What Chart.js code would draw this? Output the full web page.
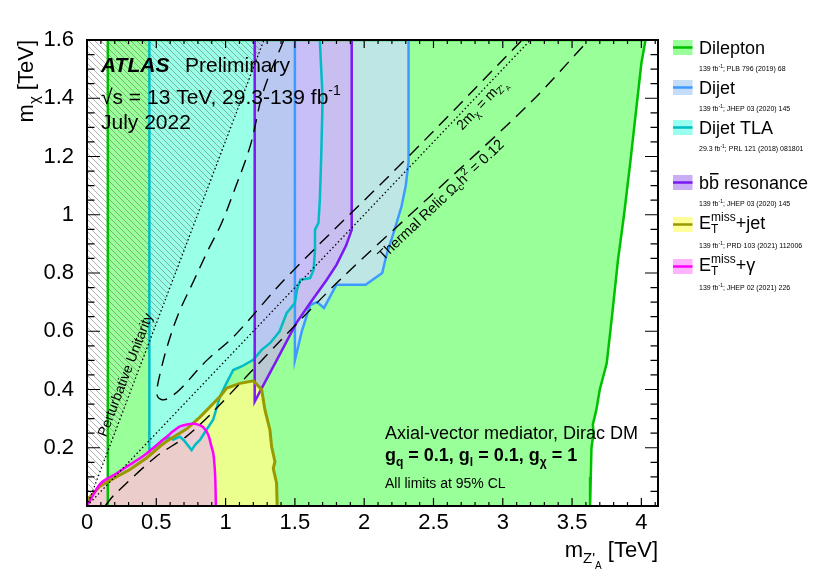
<!DOCTYPE html>
<html>
<head>
<meta charset="utf-8">
<script src="https://cdn.jsdelivr.net/npm/chart.js@4.4.1/dist/chart.umd.min.js"></script>
<style>
    html, body { margin: 0; padding: 0; background: #fff; }
    canvas { display: block; }
</style>
</head>
<body>
<canvas id="limitPlot" width="830" height="569"></canvas>
<script>
/* Exclusion contours in the (m_Z'A, m_chi) plane, both in TeV */
const dileptonMZ   = [0.15, 0.15, 4.03, 4.00, 3.96, 3.92, 3.875, 3.83, 3.79, 3.75, 3.70, 3.675, 3.65, 3.655, 3.64, 3.635, 3.63];
const dileptonMChi = [0.00, 1.60, 1.60, 1.52, 1.35, 1.18, 1.00, 0.84, 0.66, 0.49, 0.40, 0.33, 0.28, 0.25, 0.20, 0.10, 0.00];

const dijetMZ   = [1.50, 1.50, 1.55, 1.61, 1.66, 1.71, 1.80, 2.01, 2.13, 2.16, 2.22, 2.27, 2.30, 2.32, 2.32];
const dijetMChi = [1.60, 0.50, 0.60, 0.69, 0.70, 0.68, 0.76, 0.76, 0.80, 0.86, 0.95, 1.03, 1.10, 1.18, 1.60];

const tlaMZ   = [0.45, 0.45, 0.50, 0.55, 0.59, 0.623, 0.67, 0.70, 0.755, 0.78, 0.815, 0.86, 0.91, 0.96, 1.00, 1.055, 1.115, 1.20, 1.26, 1.32, 1.39, 1.44, 1.50, 1.515, 1.54, 1.61, 1.635, 1.645, 1.645, 1.67, 1.68, 1.69, 1.70, 1.69, 1.68];
const tlaMChi = [1.60, 0.19, 0.207, 0.228, 0.236, 0.228, 0.238, 0.225, 0.192, 0.21, 0.227, 0.26, 0.296, 0.376, 0.416, 0.467, 0.479, 0.502, 0.536, 0.559, 0.60, 0.662, 0.697, 0.742, 0.777, 0.782, 0.811, 0.88, 0.948, 0.972, 1.05, 1.20, 1.40, 1.50, 1.60];

const bbMZ   = [1.21, 1.21, 1.26, 1.37, 1.51, 1.61, 1.73, 1.80, 1.87, 1.91, 1.91];
const bbMChi = [1.60, 0.358, 0.404, 0.502, 0.628, 0.697, 0.777, 0.828, 0.895, 0.948, 1.60];

const monojetMZ   = [0.00, 0.00, 0.01, 0.094, 0.166, 0.31, 0.43, 0.527, 0.575, 0.72, 0.815, 0.96, 1.008, 1.104, 1.20, 1.26, 1.284, 1.32, 1.332, 1.356, 1.344, 1.368, 1.372];
const monojetMChi = [0.00, 0.02, 0.025, 0.068, 0.088, 0.125, 0.165, 0.205, 0.222, 0.265, 0.305, 0.376, 0.405, 0.421, 0.43, 0.40, 0.33, 0.261, 0.204, 0.152, 0.129, 0.078, 0.00];

const monophotonMZ   = [0.00, 0.04, 0.094, 0.142, 0.20, 0.286, 0.38, 0.43, 0.50, 0.575, 0.625, 0.671, 0.72, 0.767, 0.81, 0.84, 0.875, 0.895, 0.911, 0.92, 0.925, 0.928, 0.93];
const monophotonMChi = [0.00, 0.035, 0.075, 0.093, 0.108, 0.135, 0.163, 0.18, 0.208, 0.238, 0.258, 0.273, 0.28, 0.282, 0.278, 0.27, 0.245, 0.21, 0.181, 0.14, 0.10, 0.05, 0.00];

/* Relic density curves and reference lines */
const relicUpperMZ   = [1.42, 1.27, 1.18, 1.06, 0.97, 0.875, 0.767, 0.66, 0.58, 0.53, 0.505, 0.51, 0.54, 0.58, 0.67, 0.864, 1.055, 1.45, 2.32, 3.14];
const relicUpperMChi = [1.60, 1.42, 1.24, 1.08, 0.97, 0.88, 0.77, 0.66, 0.55, 0.46, 0.40, 0.375, 0.365, 0.368, 0.40, 0.50, 0.58, 0.79, 1.20, 1.60];
const relicLowerMZ   = [0.13, 0.20, 0.50, 0.72, 0.91, 1.40, 1.85, 2.475, 3.20, 3.62];
const relicLowerMChi = [0.00, 0.04, 0.17, 0.24, 0.324, 0.57, 0.788, 1.063, 1.385, 1.60];
const unitarityMZ   = [0.00, 1.2766];
const unitarityMChi = [0.00, 1.60];
const halfMassMZ   = [0.00, 3.20];
const halfMassMChi = [0.00, 1.60];
const hatchMZ   = [0.00, 1.2766, 0.00];
const hatchMChi = [0.00, 1.60, 1.60];

/* Legend references */
const legendLumi = ['139', '139', '29.3', '139', '139', '139'];
const legendRefs = ['PLB 796 (2019) 68', 'JHEP 03 (2020) 145', 'PRL 121 (2018) 081801',
    'JHEP 03 (2020) 145', 'PRD 103 (2021) 112006', 'JHEP 02 (2021) 226'];

const FONT = "'Liberation Sans', Arial, Helvetica, sans-serif";


const toPoints = (xs, ys) => xs.map((x, i) => ({ x: x, y: ys[i] }));

/* Filled area without outline */
const fillSet = (xs, ys, color, order) => ({
    data: toPoints(xs, ys),
    showLine: true,
    fill: 'shape',
    backgroundColor: color,
    borderColor: 'rgba(0,0,0,0)',
    borderWidth: 0,
    pointRadius: 0,
    order: order
});

/* Outline only */
const lineSet = (xs, ys, color, width, order, extra) => Object.assign({
    data: toPoints(xs, ys),
    showLine: true,
    fill: false,
    borderColor: color,
    borderWidth: width,
    pointRadius: 0,
    clip: 0,
    order: order
}, extra || {});

/* Grey diagonal hatching for the unitarity region */
const makeHatch = () => {
    let c = document.createElement('canvas');
    c.width = 6;
    c.height = 6;
    let g = c.getContext('2d');
    g.strokeStyle = 'rgba(100,100,100,0.5)';
    g.lineWidth = 1;
    g.beginPath();
    g.moveTo(0, 0); g.lineTo(6, 6);
    g.moveTo(-3, 3); g.lineTo(3, 9);
    g.moveTo(3, -3); g.lineTo(9, 3);
    g.stroke();
    return g.createPattern(c, 'repeat');
};

const fontOf = (p) => `${p.italic ? 'italic ' : ''}${p.bold ? 'bold ' : ''}${p.size}px ${FONT}`;

/* Draws a run of text pieces with sub/superscripts */
const drawRich = (ctx, parts, x, y, align) => {
    let w = 0;
    parts.forEach(p => {
        ctx.font = fontOf(p);
        p.w = ctx.measureText(p.t).width;
        if (!p.stack) w += p.w;
    });
    let cx = align === 'right' ? x - w : (align === 'center' ? x - w / 2 : x);
    ctx.textAlign = 'left';
    ctx.textBaseline = 'alphabetic';
    parts.forEach(p => {
        ctx.font = fontOf(p);
        ctx.fillText(p.t, cx, y + (p.dy || 0));
        if (p.over) {
            ctx.save();
            ctx.lineWidth = 1.5;
            ctx.strokeStyle = ctx.fillStyle;
            ctx.beginPath();
            ctx.moveTo(cx + 1, y - p.size * 0.82);
            ctx.lineTo(cx + p.w - 0.5, y - p.size * 0.82);
            ctx.stroke();
            ctx.restore();
        }
        if (!p.stack) cx += p.w;
    });
};

/* Frame and inward ticks on all four sides */
const drawFrame = (chart) => {
    const { ctx, chartArea: a, scales: { x, y } } = chart;
    ctx.save();
    ctx.strokeStyle = '#000';
    ctx.lineWidth = 1.2;
    ctx.beginPath();
    for (let i = 0; i <= 41; i++) {
        let px = x.getPixelForValue(i / 10);
        let len = i % 5 === 0 ? 8 : 4;
        ctx.moveTo(px, a.bottom); ctx.lineTo(px, a.bottom - len);
        ctx.moveTo(px, a.top); ctx.lineTo(px, a.top + len);
    }
    for (let i = 0; i <= 32; i++) {
        let py = y.getPixelForValue(i * 0.05);
        let len = i % 4 === 0 ? 13 : 7.5;
        ctx.moveTo(a.left, py); ctx.lineTo(a.left + len, py);
        ctx.moveTo(a.right, py); ctx.lineTo(a.right - len, py);
    }
    ctx.stroke();
    ctx.lineWidth = 2;
    ctx.strokeRect(a.left, a.top, a.right - a.left, a.bottom - a.top);
    ctx.restore();
};

/* Rotated label placed at a data point with a pixel offset */
const drawAlong = (chart, mz, mchi, dx, dy, angle, parts) => {
    const { ctx, scales: { x, y } } = chart;
    ctx.save();
    ctx.translate(x.getPixelForValue(mz) + dx, y.getPixelForValue(mchi) + dy);
    ctx.rotate(angle * Math.PI / 180);
    drawRich(ctx, parts, 0, 0, 'left');
    ctx.restore();
};

const drawTexts = (chart) => {
    const { ctx } = chart;
    ctx.save();
    ctx.fillStyle = '#000';

    drawRich(ctx, [{ t: 'ATLAS', size: 21, bold: true, italic: true }], 101, 72, 'left');
    drawRich(ctx, [{ t: 'Preliminary', size: 21 }], 185, 72, 'left');
    drawRich(ctx, [{ t: '\u221As = 13 TeV, 29.3-139 fb', size: 21 }, { t: '-1', size: 14, dy: -9 }], 101, 104, 'left');
    drawRich(ctx, [{ t: 'July 2022', size: 21 }], 101, 129, 'left');

    drawRich(ctx, [{ t: 'Axial-vector mediator, Dirac DM', size: 18 }], 385, 439, 'left');
    drawRich(ctx, [
        { t: 'g', size: 18, bold: true }, { t: 'q', size: 12, bold: true, dy: 5 },
        { t: ' = 0.1, g', size: 18, bold: true }, { t: 'l', size: 12, bold: true, dy: 5 },
        { t: ' = 0.1, g', size: 18, bold: true }, { t: '\u03C7', size: 12, bold: true, dy: 5 },
        { t: ' = 1', size: 18, bold: true }
    ], 385, 461, 'left');
    drawRich(ctx, [{ t: 'All limits at 95% CL', size: 14 }], 385, 488, 'left');

    // labels running along the reference lines
    drawAlong(chart, 0.181, 0.227, -6, -2.5, -69, [{ t: 'Perturbative Unitarity', size: 14 }]);
    drawAlong(chart, 2.70, 1.35, 1, 18, -46.4, [
        { t: '2m', size: 14 }, { t: '\u03C7', size: 10, dy: 3 },
        { t: ' = m', size: 14 }, { t: "Z'", size: 10, dy: 3 }, { t: 'A', size: 7, dy: 6 }
    ]);
    drawAlong(chart, 2.13, 0.91, 1, 20, -43.5, [
        { t: 'Thermal Relic \u03A9', size: 14.5 }, { t: 'c', size: 10, dy: 3 },
        { t: 'h', size: 14.5 }, { t: '2', size: 10, dy: -6 }, { t: ' = 0.12', size: 14.5 }
    ]);

    // axis titles
    drawRich(ctx, [{ t: 'm', size: 22 }, { t: "Z'", size: 15, dy: 6 }, { t: 'A', size: 10, dy: 12 }, { t: ' [TeV]', size: 22 }], 658, 557, 'right');
    ctx.save();
    ctx.translate(33, 40);
    ctx.rotate(-Math.PI / 2);
    drawRich(ctx, [{ t: 'm', size: 22 }, { t: '\u03C7', size: 15, dy: 6 }, { t: ' [TeV]', size: 22 }], 0, 0, 'right');
    ctx.restore();

    ctx.restore();
};

/* Legend on the right: patch, name and reference line */
const drawLegend = (chart) => {
    const { ctx } = chart;
    const tops = [40, 80, 120, 175, 217, 259];
    const patch = ['#99ff99', '#c4dcf7', '#99ffee', '#c9adf5', '#ffff99', '#ffb3ff'];
    const stroke = ['#00c000', '#3d9bff', '#00bcc4', '#7a1af0', '#999900', '#ff00ff'];
    const names = [
        [{ t: 'Dilepton', size: 18 }],
        [{ t: 'Dijet', size: 18 }],
        [{ t: 'Dijet TLA', size: 18 }],
        [{ t: 'b', size: 18 }, { t: 'b', size: 18, over: true }, { t: ' resonance', size: 18 }],
        [{ t: 'E', size: 18 }, { t: 'T', size: 12, dy: 4, stack: true }, { t: 'miss', size: 12, dy: -8 }, { t: '+jet', size: 18 }],
        [{ t: 'E', size: 18 }, { t: 'T', size: 12, dy: 4, stack: true }, { t: 'miss', size: 12, dy: -8 }, { t: '+\u03B3', size: 18 }]
    ];
    ctx.save();
    tops.forEach((top, i) => {
        ctx.fillStyle = patch[i];
        ctx.fillRect(673, top, 19.5, 15);
        ctx.strokeStyle = stroke[i];
        ctx.lineWidth = 2.5;
        ctx.beginPath();
        ctx.moveTo(673, top + 7.5);
        ctx.lineTo(692.5, top + 7.5);
        ctx.stroke();
        ctx.fillStyle = '#000';
        drawRich(ctx, names[i], 699, top + (i >= 4 ? 12 : 13.5), 'left');
        drawRich(ctx, [
            { t: legendLumi[i] + ' fb', size: 7 }, { t: '-1', size: 5, dy: -3 },
            { t: '; ' + legendRefs[i], size: 7 }
        ], 699, top + 31, 'left');
    });
    ctx.restore();
};

const overlayPlugin = {
    id: 'overlay',
    afterDraw: (chart) => {
        drawFrame(chart);
        drawTexts(chart);
        drawLegend(chart);
    }
};


/* Builds the exclusion plot */
const buildLimitPlot = () => {
    Chart.defaults.font.family = FONT;
    const hatch = makeHatch();

    const datasets = [
        // filled areas, bottom to top
        fillSet(dileptonMZ, dileptonMChi, '#99ff99', 30),
        fillSet(tlaMZ, tlaMChi, '#99ffe6', 29),
        fillSet(dijetMZ, dijetMChi, 'rgba(202,222,255,0.75)', 28),
        fillSet(bbMZ, bbMChi, 'rgba(207,163,247,0.6)', 27),
        fillSet(hatchMZ, hatchMChi, hatch, 26),
        fillSet(monojetMZ, monojetMChi, 'rgba(255,255,140,0.8)', 25),
        fillSet(monophotonMZ, monophotonMChi, 'rgba(235,165,255,0.55)', 24),
        // contour outlines
        lineSet(dileptonMZ, dileptonMChi, '#00c000', 2.5, 20),
        lineSet(dijetMZ, dijetMChi, '#3d9bff', 2.5, 19),
        lineSet(tlaMZ, tlaMChi, '#00bcc4', 2.5, 18),
        lineSet(bbMZ, bbMChi, '#7a1af0', 2.5, 17),
        lineSet(monojetMZ.slice(1), monojetMChi.slice(1), '#999900', 3, 16),
        lineSet(monophotonMZ, monophotonMChi, '#ff00ff', 2.5, 15, { tension: 0.3 }),
        // reference lines
        lineSet(unitarityMZ, unitarityMChi, '#000', 1.3, 10, { borderDash: [1.5, 2.5] }),
        lineSet(halfMassMZ, halfMassMChi, '#000', 1.3, 9, { borderDash: [1.5, 2.5] }),
        lineSet(relicUpperMZ, relicUpperMChi, '#000', 1.4, 8, { borderDash: [13, 8], tension: 0.35 }),
        lineSet(relicLowerMZ, relicLowerMChi, '#000', 1.4, 7, { borderDash: [13, 8], tension: 0.3 })
    ];

    const config = {
        type: 'scatter',
        data: { datasets: datasets },
        options: {
            responsive: false,
            animation: false,
            events: [],
            layout: { padding: { left: 0, right: 172, top: 40, bottom: 0 } },
            plugins: { legend: { display: false }, tooltip: { enabled: false } },
            scales: {
                x: {
                    type: 'linear',
                    min: 0,
                    max: 4.12,
                    grid: { display: false },
                    border: { display: false },
                    afterFit: (scale) => { scale.height = 63; },
                    ticks: {
                        stepSize: 0.5,
                        includeBounds: false,
                        autoSkip: false,
                        maxRotation: 0,
                        padding: -4,
                        color: '#000',
                        font: { size: 22 },
                        callback: (v) => String(Math.round(v * 10) / 10)
                    }
                },
                y: {
                    type: 'linear',
                    min: 0,
                    max: 1.6,
                    grid: { display: false },
                    border: { display: false },
                    afterFit: (scale) => { scale.width = 87; },
                    ticks: {
                        stepSize: 0.2,
                        autoSkip: false,
                        padding: 5,
                        color: '#000',
                        font: { size: 22 },
                        callback: (v) => v === 0 ? '' : String(Math.round(v * 10) / 10)
                    }
                }
            }
        },
        plugins: [overlayPlugin]
    };

    const ctx = document.getElementById('limitPlot').getContext('2d');
    const limitPlot = new Chart(ctx, config);
};

document.addEventListener('DOMContentLoaded', () => {
    buildLimitPlot();
});
</script>
</body>
</html>
